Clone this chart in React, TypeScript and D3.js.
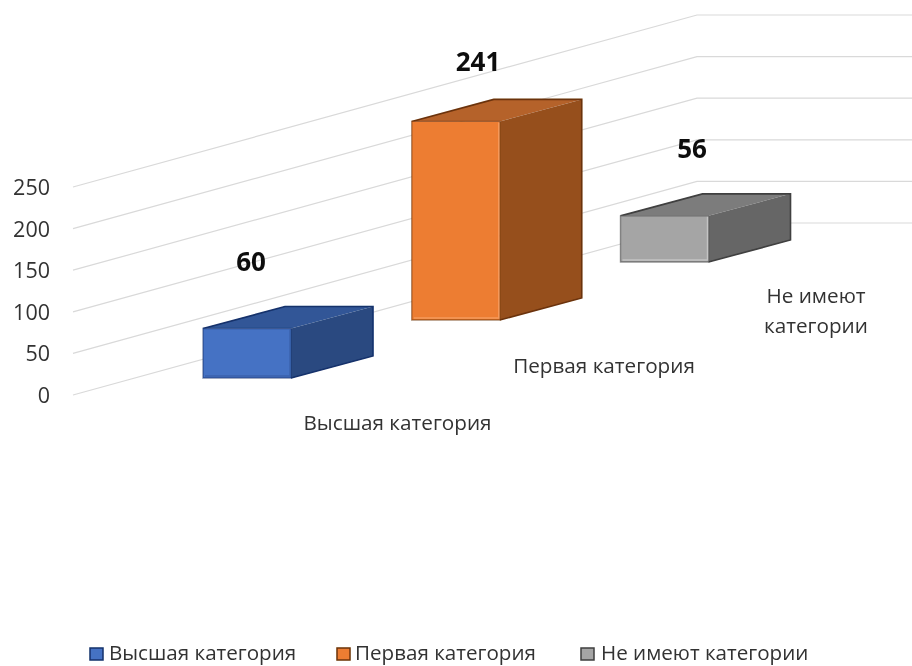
import React from 'react';
import * as d3 from 'd3';

const categories = ['Высшая категория', 'Первая категория', 'Не имеют категории'];
const values = [60, 241, 56];
const yTicks = [0, 50, 100, 150, 200, 250];
const frontColors = ['#4472c4', '#ed7d31', '#a5a5a5'];
const topColors = ['#315797', '#b5622a', '#7c7c7c'];
const sideColors = ['#2a4a80', '#96501f', '#666666'];
const edgeColors = ['#14306b', '#6b3209', '#3f3f3f'];
const bevelColors = ['#3a62ac', '#f59a5c', '#c4c4c4'];

const width = 912;
const height = 666;
const depthX = 82;
const depthY = -22;
const barWidth = 88;

// value axis on the left wall, before the skew along the floor
const yScale = d3.scaleLinear().domain([0, 250]).range([395, 187]);
const heightScale = d3.scaleLinear().domain([0, 250]).range([0, 206]);
const xFront = d3.scalePoint<string>().domain(categories).range([203, 620.5]);
const yBase = d3.scalePoint<string>().domain(categories).range([378, 262]);

const line = d3.line();

function Bar({ index }: { index: number }) {
  const cat = categories[index];
  const x0 = xFront(cat) as number;
  const yb = yBase(cat) as number;
  const yt = yb - heightScale(values[index]);
  const x1 = x0 + barWidth;
  const front: [number, number][] = [[x0, yt], [x1, yt], [x1, yb], [x0, yb]];
  const top: [number, number][] = [[x0, yt], [x0 + depthX, yt + depthY], [x1 + depthX, yt + depthY], [x1, yt]];
  const side: [number, number][] = [[x1, yt], [x1 + depthX, yt + depthY], [x1 + depthX, yb + depthY], [x1, yb]];
  const outline: [number, number][] = [[x0, yt], [x0 + depthX, yt + depthY], [x1 + depthX, yt + depthY], [x1 + depthX, yb + depthY], [x1, yb]];
  return (
    <g>
      <path d={line(top) + 'Z'} fill={topColors[index]} />
      <path d={line(side) + 'Z'} fill={sideColors[index]} />
      <path d={line(outline) as string} fill="none" stroke={edgeColors[index]} strokeWidth={1.6} />
      <path d={line(front) + 'Z'} fill={frontColors[index]} stroke={edgeColors[index]} strokeOpacity={0.55} strokeWidth={1.4} />
      <path d={line([[x0 + 2, yb - 2], [x1 - 1, yb - 2], [x1 - 1, yt + 1]]) as string} fill="none" stroke={bevelColors[index]} strokeWidth={1.4} />
    </g>
  );
}

const labelPos = [[251, 263], [478, 63], [692, 150]];
const catLabelPos = [
  { x: 397.5, lines: [{ t: 'Высшая категория', y: 423 }] },
  { x: 604, lines: [{ t: 'Первая категория', y: 366 }] },
  { x: 816, lines: [{ t: 'Не имеют', y: 296 }, { t: 'категории', y: 326 }] },
];
const legendX = [90, 337, 581];
const legendTextX = [109, 355, 601];

export default function App() {
  const font = '"Open Sans", "Noto Sans", sans-serif';
  return (
    <svg width={width} height={height} style={{ position: 'absolute', left: 0, top: 0, background: '#fff' }} fontFamily={font}>
      <defs>
        <filter id="soft" x="-5%" y="-5%" width="110%" height="110%">
          <feGaussianBlur stdDeviation="0.45" />
        </filter>
      </defs>
      <g filter="url(#soft)">
        {yTicks.map((t) => {
          const y = yScale(t);
          return (
            <g key={t}>
              <path d={line([[73, y], [697, y - 172], [912, y - 172]]) as string} fill="none" stroke="#d9d9d9" strokeWidth={1.2} />
              <text x={50} y={y + 8} textAnchor="end" fontSize={21.5} fill="#333">{t}</text>
            </g>
          );
        })}
        {categories.map((c, i) => <Bar key={c} index={i} />)}
        {values.map((v, i) => (
          <text key={i} x={labelPos[i][0]} y={labelPos[i][1] + 8} textAnchor="middle" fontSize={26} fontWeight={700} fill="#111">{v}</text>
        ))}
        {catLabelPos.map((c) => c.lines.map((l) => (
          <text key={l.t} x={c.x} y={l.y + 7} textAnchor="middle" fontSize={20.7} fill="#333">{l.t}</text>
        )))}
        {categories.map((c, i) => (
          <g key={c}>
            <rect x={legendX[i]} y={648} width={13} height={12} fill={frontColors[i]} stroke={edgeColors[i]} strokeWidth={1.5} />
            <text x={legendTextX[i]} y={660} fontSize={20.6} fill="#333">{c}</text>
          </g>
        ))}
      </g>
    </svg>
  );
}
